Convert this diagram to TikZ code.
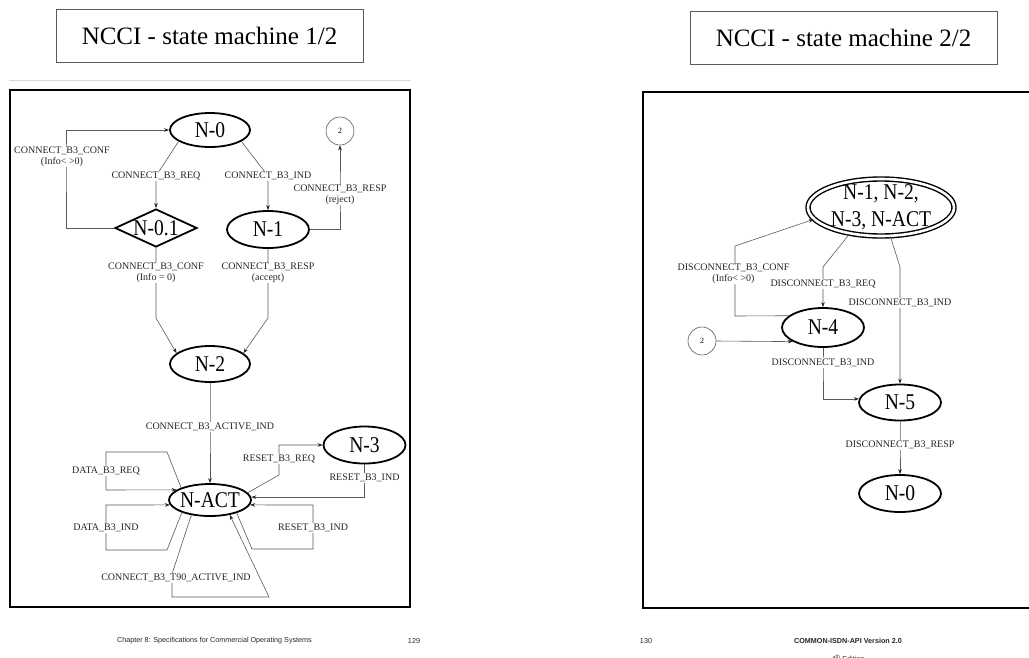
\documentclass[tikz,border=0pt]{standalone}
\usepackage{fontspec}
\setmainfont{Liberation Serif}
\newfontfamily\footfont{Liberation Sans}
\usepackage{graphicx}
\usetikzlibrary{shapes.geometric,arrows.meta}
\newcommand\sqz[1]{\scalebox{0.87}[1]{#1}}
\tikzset{
 stn/.style={ellipse,draw=black,line width=1.8pt,inner sep=0pt,font=\fontsize{22.5}{27}\selectfont},
 lab/.style={fill=white,inner sep=0.6pt,font=\fontsize{10}{11}\selectfont,text=black!85,align=center},
 conn/.style={draw=black!65,line width=0.6pt,-{Stealth[length=5pt,width=3.6pt,color=black!85]}},
 bub/.style={circle,draw=black!65,line width=0.6pt,minimum size=28pt,inner sep=0pt,font=\fontsize{8}{9}\selectfont},
 titlebox/.style={draw=black!65,line width=0.8pt,minimum width=307pt,minimum height=53pt,font=\fontsize{25}{30}\selectfont},
 panel/.style={draw=black,line width=2pt},
 foot/.style={font=\footfont\fontsize{7.2}{8}\selectfont,inner sep=0pt,text=black!85},
}
\begin{document}
\begin{tikzpicture}[x=1pt,y=-1pt]
\useasboundingbox (0,0) rectangle (1029,657);
\clip (0,0) rectangle (1029,657);

% titles and frames
\node[titlebox] (t1) at (209.5,35.5) {NCCI - state machine 1/2};
\node[titlebox] (t2) at (843.5,37.5) {NCCI - state machine 2/2};
\draw[black!15,line width=0.8pt] (9,80) -- (411,80);
\draw[panel] (9.5,90) rectangle (410,607);
\draw[panel] (1035,92) -- (643,92) -- (643,608) -- (1035,608);

% left state machine
\node[stn,minimum width=80pt,minimum height=34pt] (n0) at (210,130) {\sqz{N-0}};
\node[bub] (c2a) at (340,131) {2};
\node[diamond,draw=black,line width=1.8pt,inner sep=0pt,aspect=2.2,minimum width=82pt,minimum height=38pt,font=\fontsize{22.5}{27}\selectfont] (n01) at (156,228) {\sqz{N-0.1}};
\node[stn,minimum width=82pt,minimum height=37pt] (n1) at (268,229.5) {\sqz{N-1}};
\node[stn,minimum width=80pt,minimum height=36pt] (n2) at (210,364) {\sqz{N-2}};
\node[stn,inner xsep=-1pt,minimum width=82pt,minimum height=32pt] (nact) at (210,500) {\sqz{N-ACT}};
\node[stn,minimum width=82pt,minimum height=37pt] (n3) at (364.5,445) {\sqz{N-3}};

\draw[conn] (n0.200) -- (156,176) node[lab]{CONNECT\_B3\_REQ} -- (n01.north);
\draw[conn] (n0.-20) -- (268,176) node[lab]{CONNECT\_B3\_IND} -- (n1.north);
\draw[conn] (n1.east) -- (340,229.5) -- (340,195) node[lab]{CONNECT\_B3\_RESP\\(reject)} -- (c2a.south);
\draw[conn] (n01.west) -- (66,228) -- (66,157) node[lab,xshift=-4pt]{CONNECT\_B3\_CONF\\(Info< >0)} |- (n0.west);
\draw[conn] (n01.south) -- (156,273) node[lab]{CONNECT\_B3\_CONF\\(Info = 0)} -- (156,318) -- (n2.162);
\draw[conn] (n1.south) -- (268,273) node[lab]{CONNECT\_B3\_RESP\\(accept)} -- (268,318) -- (n2.18);
\draw[conn] (n2.south) -- (210,427) node[lab]{CONNECT\_B3\_ACTIVE\_IND} -- (nact.north);
\draw[conn] (nact.157) -- (167,452) -- (106,452) -- (106,471) node[lab]{DATA\_B3\_REQ} -- (106,490) -- (nact.163);
\draw[conn] (nact.204) -- (167,550) -- (106,550) -- (106,528) node[lab]{DATA\_B3\_IND} -- (106,505) -- (nact.187);
\draw[conn] (nact.219) -- (172,574) -- (172,578) node[lab,xshift=4pt]{CONNECT\_B3\_T90\_ACTIVE\_IND} -- (172,597) -- (269,597) -- (nact.-37);
\draw[conn] (nact.-26) -- (252,549) -- (313,549) -- (313,528) node[lab]{RESET\_B3\_IND} -- (313,505) -- (nact.-7);
\draw[conn] (nact.11) -- (279,475) -- (279,459) node[lab]{RESET\_B3\_REQ} |- (n3.west);
\draw[conn] (n3.south) -- (364.5,478) node[lab]{RESET\_B3\_IND} |- (nact.4);

% right state machine
\node[stn,double,double distance=2.6pt,line width=1.4pt,inner ysep=-4pt,align=center,minimum width=146pt,minimum height=57pt] (big) at (881,207.5) {\sqz{N-1, N-2,}\\\sqz{N-3, N-ACT}};
\node[stn,minimum width=82pt,minimum height=39pt] (n4) at (823,327.5) {\sqz{N-4}};
\node[bub] (c2b) at (702,341) {2};
\node[stn,minimum width=82pt,minimum height=36pt] (n5) at (900,402.5) {\sqz{N-5}};
\node[stn,minimum width=82pt,minimum height=37pt] (n0b) at (900,493.5) {\sqz{N-0}};

\draw[conn] (n4.161) -- (735,316) -- (735,274) node[lab,xshift=-1.5pt]{DISCONNECT\_B3\_CONF\\(Info< >0)} -- (735,246) -- (big.190);
\draw[conn] (big.220) -- (823,267) -- (823,284) node[lab]{DISCONNECT\_B3\_REQ} -- (n4.north);
\draw[conn] (big.-72) -- (900,267) -- (900,303) node[lab]{DISCONNECT\_B3\_IND} -- (n5.north);
\draw[conn] (c2b.east) -- (n4.205);
\draw[conn] (n4.south) -- (823,363) node[lab]{DISCONNECT\_B3\_IND} |- (n5.175);
\draw[conn] (n5.south) -- (900,445) node[lab]{DISCONNECT\_B3\_RESP} -- (n0b.north);

% footer
\node[foot] (f1) at (214.5,641) {Chapter 8: Specifications for Commercial Operating Systems};
\node[foot] (f2) at (414,641) {129};
\node[foot] (f3) at (646,641) {130};
\node[foot,font=\footfont\bfseries\fontsize{7.2}{8}\selectfont] (f4) at (848,641) {COMMON-ISDN-API Version 2.0};
\node[foot] (f5) at (848,658.5) {4\textsuperscript{th} Edition};
\end{tikzpicture}
\end{document}
